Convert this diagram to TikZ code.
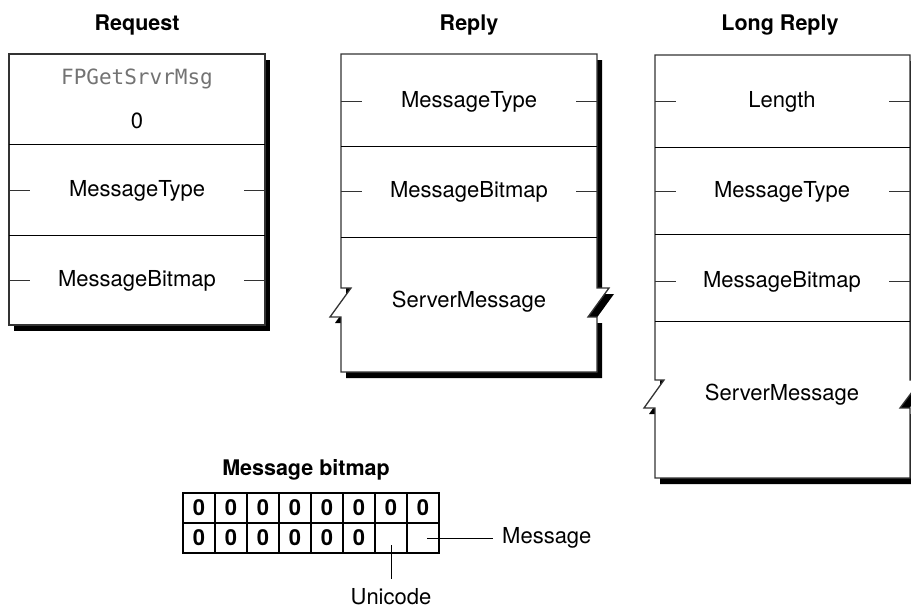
\documentclass[tikz,border=0pt]{standalone}
\usepackage{fontspec}
\setmainfont{TeX Gyre Heros}
\setmonofont{DejaVu Sans Mono}
\usetikzlibrary{shadows}

\tikzset{
  fld/.style={font=\fontsize{22}{26}\selectfont, inner sep=2pt},
  ttl/.style={font=\fontsize{21.5}{26}\selectfont\bfseries, inner sep=2pt},
  fixedtxt/.style={font=\fontsize{21}{26}\selectfont\ttfamily, text=black!55, inner sep=2pt},
  boxframe/.style={draw=black!80, line width=1.3pt, fill=white,
    drop shadow={shadow xshift=5pt, shadow yshift=-6pt, fill=black, opacity=1}},
  divider/.style={line width=1pt},
  fieldtick/.style={line width=1pt, black!80},
  bitcell/.style={draw, line width=1.1pt, minimum width=32pt, minimum height=30pt,
    inner sep=0pt, font=\fontsize{22}{26}\selectfont\bfseries},
  connector/.style={line width=1pt},
}

\begin{document}
\begin{tikzpicture}[x=1pt, y=-1pt]
  \useasboundingbox (0,0) rectangle (911,608);
  \clip (0,0) rectangle (911,608);

  \node[ttl] (reqtitle) at (137,25) {Request};
  \node[ttl] (reptitle) at (469,25) {Reply};
  \node[ttl] (longtitle) at (780,25) {Long Reply};

  \draw[boxframe] (9,54) rectangle (265,325);
  \draw[divider] (9,144) -- (265,144) (9,235) -- (265,235);
  \foreach \y in {190,280} \draw[fieldtick] (9,\y) -- +(21,0) (265,\y) -- +(-21,0);
  \node[fixedtxt] (reqcmd) at (137,79) {FPGetSrvrMsg};
  \node[fld] (reqzero) at (137,121) {0};
  \node[fld] (reqtype) at (137,191) {MessageType};
  \node[fld] (reqbitmap) at (137,281) {MessageBitmap};

  \draw[boxframe] (341,54) -- (597,54) -- (597,288) -- (609,288) -- (588,317) -- (597,317)
    -- (597,372) -- (341,372) -- (341,317) -- (330,317) -- (351,288) -- (341,288) -- cycle;
  \draw[divider] (341,146) -- (597,146) (341,237) -- (597,237);
  \foreach \y in {101,191} \draw[fieldtick] (341,\y) -- +(21,0) (597,\y) -- +(-21,0);
  \node[fld] (reptype) at (469,102) {MessageType};
  \node[fld] (repbitmap) at (469,192) {MessageBitmap};
  \node[fld] (repserver) at (469,302) {ServerMessage};

  \draw[boxframe] (655,55) -- (910,55) -- (910,380) -- (921,380) -- (900,408) -- (910,408)
    -- (910,478) -- (655,478) -- (655,408) -- (644,408) -- (664,380) -- (655,380) -- cycle;
  \draw[divider] (655,147) -- (910,147) (655,234) -- (910,234) (655,321) -- (910,321);
  \foreach \y in {101,191,281} \draw[fieldtick] (655,\y) -- +(21,0) (910,\y) -- +(-21,0);
  \node[fld] (longlen) at (782,102) {Length};
  \node[fld] (longtype) at (782,192) {MessageType};
  \node[fld] (longbitmap) at (782,282) {MessageBitmap};
  \node[fld] (longserver) at (782,395) {ServerMessage};

  \node[ttl] (bittitle) at (306,470) {Message bitmap};
  \foreach \i in {1,...,8} \node[bitcell] (hi\i) at ({167+32*\i},508) {0};
  \foreach \i/\v in {1/0,2/0,3/0,4/0,5/0,6/0,7/{},8/{}}
    \node[bitcell] (lo\i) at ({167+32*\i},538) {\v};
  \node[fld, anchor=west] (msglabel) at (500,538) {Message};
  \node[fld] (unilabel) at (391,597) {Unicode};
  \draw[connector, shorten >=7pt] ([xshift=4pt]lo8.center) -- (msglabel);
  \draw[connector, shorten >=8pt] ([yshift=-7pt]lo7.center) -- (unilabel);
\end{tikzpicture}
\end{document}
